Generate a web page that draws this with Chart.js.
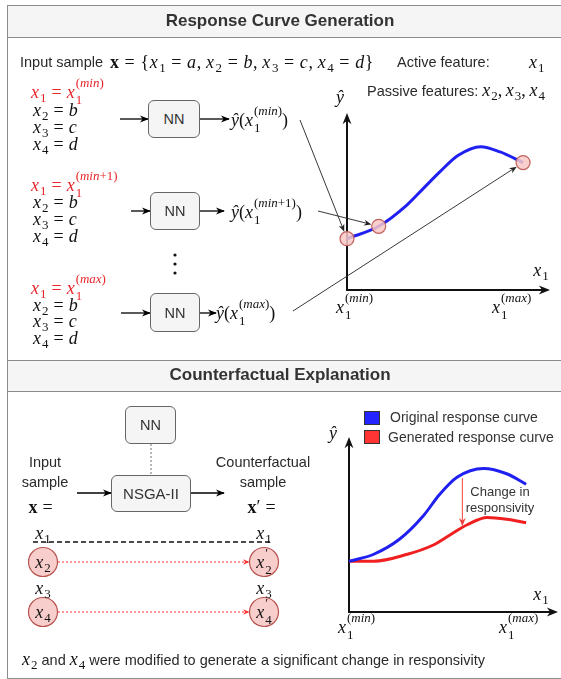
<!DOCTYPE html>
<html>
<head>
<meta charset="utf-8">
<script src="https://cdn.jsdelivr.net/npm/chart.js@4.4.0/dist/chart.umd.min.js"></script>
<style>
html, body { margin: 0; padding: 0; background: #fff; }
#page { position: relative; width: 561px; height: 679px; overflow: hidden; font-family: 'Liberation Sans', Arial, sans-serif; color: #2a2a2a; }
canvas { position: absolute; left: 0; top: 0; }
svg { position: absolute; left: 0; top: 0; }
.frame { position: absolute; left: 7px; top: 5px; width: 600px; height: 672px; border: 1.5px solid #8c8c8c; }
.bar { position: absolute; left: 7px; width: 600px; background: #f5f5f5; border: 1.5px solid #8c8c8c; }
.t { position: absolute; white-space: nowrap; height: 20px; line-height: 20px; font-size: 14.5px; }
.c { transform: translateX(-50%); }
.title { font-weight: bold; font-size: 17px; color: #333; }
.m { font-family: 'Liberation Serif', 'DejaVu Serif', serif; font-size: 18px; color: #111; }
.m i { font-style: italic; }
.hd { letter-spacing: 0.6px; }
.o { padding: 0 5px; }
.r, .r * { color: #e8262b; }
sub { font-size: 0.72em; vertical-align: -0.3em; line-height: 0; padding-left: 1px; }
.ss { display: inline-block; line-height: 0; vertical-align: baseline; font-size: 0.72em; padding-left: 1px; }
.ss > span { display: block; line-height: 0; position: relative; }
.ss > .sp { top: -0.85em; }
.ss > .sb { top: 0.45em; }
.box { position: absolute; box-sizing: border-box; background: #f5f5f5; border: 1.3px solid #666; border-radius: 6px; display: flex; align-items: center; justify-content: center; font-size: 14.5px; color: #333; }
.sq { position: absolute; width: 16px; height: 14px; box-sizing: border-box; border: 1px solid #333; }
.s13 { font-size: 13px; color: #333; }
.s14 { font-size: 14px; color: #333; }
</style>
</head>
<body>
<div id="page">
  <div class="frame"></div>
  <div class="bar" style="top:5px;height:31px;"></div>
  <div class="bar" style="top:360px;height:30px;"></div>

  <canvas id="chartResposta" width="561" height="679"></canvas>
  <canvas id="chartContrafactual" width="561" height="679"></canvas>

  <svg width="561" height="679">
    <defs>
      <marker id="ah" viewBox="0 0 10 10" refX="9" refY="5" markerWidth="7" markerHeight="7" orient="auto">
        <path d="M0,1 L10,5 L0,9 L3,5 z" fill="#000"/>
      </marker>
      <marker id="ahr" viewBox="0 0 10 10" refX="9" refY="5" markerWidth="6" markerHeight="6" orient="auto">
        <path d="M0,1 L10,5 L0,9 L3,5 z" fill="#ff3333"/>
      </marker>
    </defs>
    <g stroke="#000" stroke-width="1.3" marker-end="url(#ah)">
      <line x1="120" y1="119" x2="148" y2="119"/>
      <line x1="200" y1="119" x2="229" y2="119"/>
      <line x1="131" y1="211" x2="150" y2="211"/>
      <line x1="200" y1="211" x2="224" y2="211"/>
      <line x1="121" y1="313" x2="150" y2="313"/>
      <line x1="200" y1="313" x2="216" y2="313"/>
      <line x1="77" y1="493" x2="111" y2="493"/>
      <line x1="191" y1="493" x2="224" y2="493"/>
    </g>
    <g fill="#111">
      <circle cx="175" cy="255" r="1.6"/>
      <circle cx="175" cy="264" r="1.6"/>
      <circle cx="175" cy="273" r="1.6"/>
    </g>
    <line x1="151" y1="444" x2="151" y2="475" stroke="#888" stroke-width="1.2" stroke-dasharray="2,2"/>
    <line x1="33" y1="542" x2="272" y2="542" stroke="#111" stroke-width="1.3" stroke-dasharray="5,3"/>
    <g stroke="#ff3333" stroke-width="1.1" stroke-dasharray="2,2" marker-end="url(#ahr)">
      <line x1="58" y1="562" x2="249" y2="562"/>
      <line x1="58" y1="612" x2="249" y2="612"/>
    </g>
    <g fill="#f8cecc" stroke="#b85450" stroke-width="1.2">
      <circle cx="43" cy="562" r="14.5"/>
      <circle cx="264" cy="562" r="14.5"/>
      <circle cx="43" cy="612" r="14.5"/>
      <circle cx="264" cy="612" r="14.5"/>
    </g>
  </svg>

  <div class="box" style="left:148px;top:100px;width:52px;height:38px;">NN</div>
  <div class="box" style="left:150px;top:192px;width:50px;height:38px;">NN</div>
  <div class="box" style="left:150px;top:293px;width:50px;height:39px;">NN</div>
  <div class="box" style="left:125px;top:406px;width:51px;height:38px;">NN</div>
  <div class="box" style="left:111px;top:475px;width:80px;height:37px;font-size:15px;">NSGA-II</div>

  <div class="sq" style="left:364px;top:411px;background:#2424ff;"></div>
  <div class="sq" style="left:364px;top:430px;background:#ff3535;"></div>

  <div id="labels"></div>
</div>

<script>
// curva de resposta (x1 normalizado: 0 = x1(min), 1 = x1(max))
const curvaX = [0, 0.18, 0.34, 0.43, 0.53, 0.63, 0.76, 0.87, 1.0];
const curvaY = [0.29, 0.36, 0.48, 0.57, 0.67, 0.76, 0.81, 0.78, 0.72];
const amostras = [0, 1, 8]; // pontos avaliados pela NN

// contrafactual
const origX = [0, 0.14, 0.29, 0.42, 0.51, 0.61, 0.76, 0.89, 1.0];
const origY = [0.29, 0.33, 0.42, 0.55, 0.67, 0.77, 0.82, 0.79, 0.73];
const geradaX = [0, 0.14, 0.33, 0.47, 0.57, 0.67, 0.78, 0.89, 1.0];
const geradaY = [0.29, 0.29, 0.33, 0.38, 0.44, 0.50, 0.54, 0.53, 0.51];
const legendas = ['Original response curve', 'Generated response curve'];
const mudanca = { x: 0.64, de: 0.765, ate: 0.49 };

// helpers de texto
const ss = (sup, sub) => `<span class="ss"><span class="sp">${sup}</span><span class="sb">${sub}</span></span>`;
const x1min = `<i>x</i>${ss('(<i>min</i>)', '1')}`;
const x1min1 = `<i>x</i>${ss('(<i>min</i>+1)', '1')}`;
const x1max = `<i>x</i>${ss('(<i>max</i>)', '1')}`;
const eq = '<span class="o">=</span>';
const xs = n => `<i>x</i><sub>${n}</sub>`;

const labels = [];
function T(x, y, html, cls, centro) {
    labels.push(`<div class="t ${cls || ''} ${centro ? 'c' : ''}" style="left:${x}px;top:${y - 10}px;">${html}</div>`);
}

T(280, 21, 'Response Curve Generation', 'title', true);
T(280, 375, 'Counterfactual Explanation', 'title', true);

T(20, 62, 'Input sample');
T(110, 62, `<b>x</b>${eq}{${xs(1)}${eq}<i>a</i>,&thinsp;${xs(2)}${eq}<i>b</i>,&thinsp;${xs(3)}${eq}<i>c</i>,&thinsp;${xs(4)}${eq}<i>d</i>}`, 'm hd');
T(397, 62, 'Active feature:');
T(529, 62, xs(1), 'm');
T(367, 90, `Passive features: <span class="m">${xs(2)},&thinsp;${xs(3)},&thinsp;${xs(4)}</span>`);

// tres grupos de entrada
const grupos = [
    { y: [92, 110, 127, 144], x1: x1min, saida: x1min, sx: 231, sy: 120 },
    { y: [185, 202, 219, 236], x1: x1min1, saida: x1min1, sx: 231, sy: 212 },
    { y: [288, 305, 321, 338], x1: x1max, saida: x1max, sx: 216, sy: 313 }
];
grupos.forEach(g => {
    T(31, g.y[0], `<span class="r">${xs(1)}${eq}${g.x1}</span>`, 'm');
    T(33, g.y[1], `${xs(2)}${eq}<i>b</i>`, 'm');
    T(33, g.y[2], `${xs(3)}${eq}<i>c</i>`, 'm');
    T(33, g.y[3], `${xs(4)}${eq}<i>d</i>`, 'm');
    T(g.sx, g.sy, `<i>ŷ</i>(${g.saida})`, 'm');
});

// rotulos dos eixos
T(340, 97, '<i>ŷ</i>', 'm', true);
T(541, 270, xs(1), 'm', true);
T(336, 307, x1min, 'm');
T(492, 307, x1max, 'm');
T(333, 433, '<i>ŷ</i>', 'm', true);
T(541, 594, xs(1), 'm', true);
T(338, 627, x1min, 'm');
T(499, 627, x1max, 'm');

// parte inferior
T(45, 462, 'Input', '', true);
T(45, 482, 'sample', '', true);
T(43, 507, `<b>x</b>${eq}`, 'm', true);
T(263, 462, 'Counterfactual', '', true);
T(263, 482, 'sample', '', true);
T(264, 507, `<b>x</b>′${eq}`, 'm', true);
T(43, 533, xs(1), 'm', true);
T(264, 533, xs(1), 'm', true);
T(43, 562, xs(2), 'm', true);
T(264, 562, `<i>x</i>${ss('′', '2')}`, 'm', true);
T(43, 588, xs(3), 'm', true);
T(264, 588, xs(3), 'm', true);
T(43, 612, xs(4), 'm', true);
T(264, 612, `<i>x</i>${ss('′', '4')}`, 'm', true);
T(22, 659, `<span class="m">${xs(2)}</span> and <span class="m">${xs(4)}</span> were modified to generate a significant change in responsivity`);

T(390, 417, legendas[0], 's14');
T(388, 437, legendas[1], 's14');
T(500, 492, 'Change in', 's13', true);
T(500, 508, 'responsivity', 's13', true);

document.getElementById('labels').innerHTML = labels.join('');

// desenho de setas
function seta(ctx, x1, y1, x2, y2, cor, largura, tam) {
    const a = Math.atan2(y2 - y1, x2 - x1);
    ctx.save();
    ctx.strokeStyle = cor;
    ctx.fillStyle = cor;
    ctx.lineWidth = largura;
    ctx.beginPath();
    ctx.moveTo(x1, y1);
    ctx.lineTo(x2 - Math.cos(a) * tam * 0.6, y2 - Math.sin(a) * tam * 0.6);
    ctx.stroke();
    ctx.beginPath();
    ctx.moveTo(x2, y2);
    ctx.lineTo(x2 - tam * Math.cos(a - 0.38), y2 - tam * Math.sin(a - 0.38));
    ctx.lineTo(x2 - tam * 0.65 * Math.cos(a), y2 - tam * 0.65 * Math.sin(a));
    ctx.lineTo(x2 - tam * Math.cos(a + 0.38), y2 - tam * Math.sin(a + 0.38));
    ctx.closePath();
    ctx.fill();
    ctx.restore();
}

const eixosPlugin = {
    id: 'eixos',
    beforeDatasetsDraw(chart) {
        const { ctx, chartArea } = chart;
        seta(ctx, chartArea.left, chartArea.bottom + 1, chartArea.left, chartArea.top, '#111', 2, 12);
        seta(ctx, chartArea.left - 1, chartArea.bottom, chartArea.right, chartArea.bottom, '#111', 2, 12);
    }
};

// setas das saidas da NN ate os pontos da curva
const origemSetas = [[300, 120], [318, 211], [293, 311]];
const setasPlugin = {
    id: 'setas',
    afterDatasetsDraw(chart) {
        const { ctx, scales } = chart;
        amostras.forEach((idx, i) => {
            const px = scales.x.getPixelForValue(curvaX[idx]);
            const py = scales.y.getPixelForValue(curvaY[idx]);
            const [sx, sy] = origemSetas[i];
            const a = Math.atan2(py - sy, px - sx);
            seta(ctx, sx, sy, px - Math.cos(a) * 7.5, py - Math.sin(a) * 7.5, '#222', 0.9, 8);
        });
    }
};

const mudancaPlugin = {
    id: 'mudanca',
    afterDatasetsDraw(chart) {
        const { ctx, scales } = chart;
        const px = scales.x.getPixelForValue(mudanca.x);
        seta(ctx, px, scales.y.getPixelForValue(mudanca.de), px, scales.y.getPixelForValue(mudanca.ate), '#f04040', 1, 9);
    }
};

const pontos = (xv, yv) => xv.map((v, i) => ({ x: v, y: yv[i] }));

// 1. Curva de resposta
new Chart(document.getElementById('chartResposta'), {
    type: 'line',
    data: {
        datasets: [{
            data: pontos(curvaX, curvaY),
            borderColor: '#2020f0',
            borderWidth: 3,
            cubicInterpolationMode: 'monotone',
            pointRadius: curvaX.map((v, i) => amostras.includes(i) ? 7 : 0),
            pointBackgroundColor: 'rgba(248, 200, 198, 0.85)',
            pointBorderColor: '#c0605c',
            pointBorderWidth: 1.2,
            clip: false
        }]
    },
    options: {
        responsive: false,
        animation: false,
        events: [],
        layout: { padding: { left: 347, right: 11, top: 113, bottom: 389 } },
        plugins: { legend: { display: false }, tooltip: { enabled: false } },
        scales: {
            x: { type: 'linear', min: 0, max: 1.153, display: false },
            y: { min: 0, max: 1, display: false }
        }
    },
    plugins: [eixosPlugin, setasPlugin]
});

// 2. Curvas original x gerada
new Chart(document.getElementById('chartContrafactual'), {
    type: 'line',
    data: {
        datasets: [{
            label: legendas[0],
            data: pontos(origX, origY),
            borderColor: '#2020f0',
            borderWidth: 3,
            cubicInterpolationMode: 'monotone',
            pointRadius: 0,
            clip: false
        }, {
            label: legendas[1],
            data: pontos(geradaX, geradaY),
            borderColor: '#f02020',
            borderWidth: 3,
            cubicInterpolationMode: 'monotone',
            pointRadius: 0,
            clip: false
        }]
    },
    options: {
        responsive: false,
        animation: false,
        events: [],
        layout: { padding: { left: 349, right: 3, top: 437, bottom: 67 } },
        plugins: { legend: { display: false }, tooltip: { enabled: false } },
        scales: {
            x: { type: 'linear', min: 0, max: 1.18, display: false },
            y: { min: 0, max: 1, display: false }
        }
    },
    plugins: [eixosPlugin, mudancaPlugin]
});
</script>
</body>
</html>
